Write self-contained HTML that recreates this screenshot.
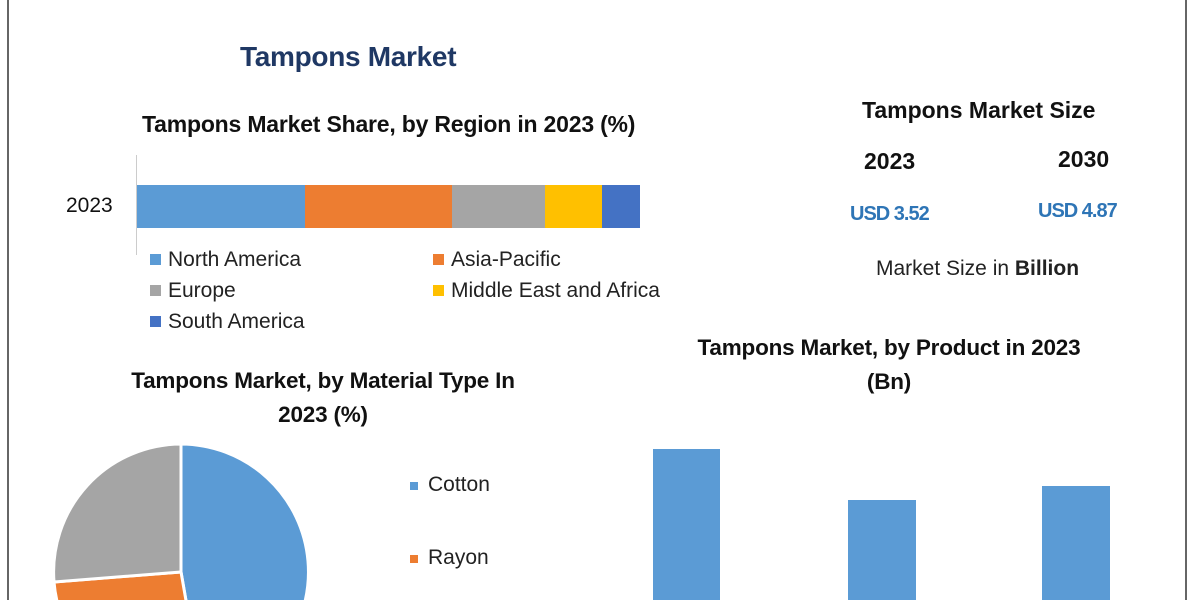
<!DOCTYPE html>
<html><head><style>
html,body{margin:0;width:1200px;height:600px;overflow:hidden}
body{background:#fff;position:relative;font-family:"Liberation Sans",sans-serif}
.t{position:absolute;white-space:nowrap;}
.b{font-weight:bold;color:#111}
.lg{font-size:21px;color:#222}
.sq{display:inline-block;width:11px;height:11px;margin-right:7px;vertical-align:1px}
</style></head><body>
<div style="position:absolute;left:7px;top:0;width:2px;height:600px;background:#666"></div>
<div style="position:absolute;left:1185px;top:0;width:2px;height:600px;background:#666"></div>

<div class="t b" style="left:240px;top:41px;font-size:28px;color:#1f3864;letter-spacing:-0.3px">Tampons Market</div>
<div class="t b" style="left:142px;top:111px;font-size:23px;letter-spacing:-0.2px">Tampons Market Share, by Region in 2023 (%)</div>
<div style="position:absolute;left:136px;top:155px;width:1px;height:100px;background:#ccc"></div>
<div class="t" style="left:66px;top:194px;font-size:21px;color:#111">2023</div>
<div style="position:absolute;top:185px;height:43px;left:137px;width:168px;background:#5b9bd5"></div>
<div style="position:absolute;top:185px;height:43px;left:305px;width:147px;background:#ed7d31"></div>
<div style="position:absolute;top:185px;height:43px;left:452px;width:93px;background:#a5a5a5"></div>
<div style="position:absolute;top:185px;height:43px;left:545px;width:57px;background:#ffc000"></div>
<div style="position:absolute;top:185px;height:43px;left:602px;width:38px;background:#4472c4"></div>
<div class="t lg" style="left:150px;top:248px"><span class="sq" style="background:#5b9bd5"></span>North America</div>
<div class="t lg" style="left:433px;top:248px"><span class="sq" style="background:#ed7d31"></span>Asia-Pacific</div>
<div class="t lg" style="left:150px;top:279px"><span class="sq" style="background:#a5a5a5"></span>Europe</div>
<div class="t lg" style="left:433px;top:279px"><span class="sq" style="background:#ffc000"></span>Middle East and Africa</div>
<div class="t lg" style="left:150px;top:310px"><span class="sq" style="background:#4472c4"></span>South America</div>

<div class="t b" style="left:862px;top:97px;font-size:23px">Tampons Market Size</div>
<div class="t b" style="left:864px;top:148px;font-size:23px">2023</div>
<div class="t b" style="left:1058px;top:146px;font-size:23px">2030</div>
<div class="t b" style="left:850px;top:203px;font-size:20px;color:#2e75b6;letter-spacing:-1px">USD 3.52</div>
<div class="t b" style="left:1038px;top:200px;font-size:20px;color:#2e75b6;letter-spacing:-1px">USD 4.87</div>
<div class="t" style="left:876px;top:257px;font-size:21px;color:#222">Market Size in <b>Billion</b></div>

<div class="t b" style="left:0;width:646px;text-align:center;top:364px;font-size:22.5px;line-height:34px;letter-spacing:-0.2px">Tampons Market, by Material Type In<br>2023 (%)</div>
<svg style="position:absolute;left:0;top:0" width="600" height="600">
<g stroke="#fff" stroke-width="3">
<path d="M181 572 L181 444 A128 128 0 0 1 203 698 Z" fill="#5b9bd5"/>
<path d="M181 572 L203 698 A128 128 0 0 1 54 582 Z" fill="#ed7d31"/>
<path d="M181 572 L54 582 A128 128 0 0 1 181 444 Z" fill="#a5a5a5"/>
</g>
</svg>
<div class="t lg" style="left:410px;top:473px"><span class="sq" style="background:#5b9bd5;width:8px;height:8px;margin-right:10px"></span>Cotton</div>
<div class="t lg" style="left:410px;top:546px"><span class="sq" style="background:#ed7d31;width:8px;height:8px;margin-right:10px"></span>Rayon</div>

<div class="t b" style="left:600px;width:578px;text-align:center;top:331px;font-size:22.5px;line-height:34px;letter-spacing:-0.2px">Tampons Market, by Product in 2023<br>(Bn)</div>
<div style="position:absolute;left:653px;top:449px;width:67px;height:151px;background:#5b9bd5"></div>
<div style="position:absolute;left:848px;top:500px;width:68px;height:100px;background:#5b9bd5"></div>
<div style="position:absolute;left:1042px;top:486px;width:68px;height:114px;background:#5b9bd5"></div>
</body></html>
